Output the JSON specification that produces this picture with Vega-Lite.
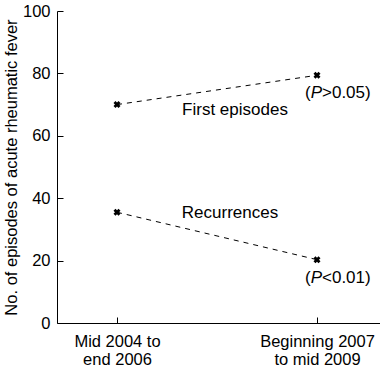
{
  "$schema": "https://vega.github.io/schema/vega-lite/v6.json",
  "width": 323,
  "height": 312,
  "autosize": {"type": "none"},
  "padding": {"left": 57, "top": 11, "right": 0, "bottom": 50},
  "background": "white",
  "config": {
    "view": {"stroke": null},
    "font": "Liberation Sans",
    "axis": {"grid": false, "domainColor": "black", "tickColor": "black", "labelColor": "black", "titleColor": "black", "labelFont": "Liberation Sans", "titleFont": "Liberation Sans", "titleFontWeight": "normal", "domainWidth": 1, "tickWidth": 1}
  },
  "resolve": {"axis": {"x": "independent", "y": "independent"}},
  "datasets": {
    "pts": [
      {"period": 0, "episodes": 70, "series": "First episodes"},
      {"period": 1, "episodes": 79.4, "series": "First episodes"},
      {"period": 0, "episodes": 35.5, "series": "Recurrences"},
      {"period": 1, "episodes": 20.3, "series": "Recurrences"}
    ],
    "labels": [
      {"period": 0.59, "episodes": 68.3, "label": "First episodes"},
      {"period": 0.565, "episodes": 35.3, "label": "Recurrences"}
    ],
    "pvals": [
      {"period": 0.94, "episodes": 73.8, "pre": "(", "p": "P", "post": ">0.05)"},
      {"period": 0.94, "episodes": 14.4, "pre": "(", "p": "P", "post": "<0.01)"}
    ]
  },
  "layer": [
    {
      "data": {"name": "pts"},
      "mark": {"type": "line", "color": "black", "strokeWidth": 1, "strokeDash": [5, 5]},
      "encoding": {
        "x": {"field": "period", "type": "quantitative", "scale": {"domain": [-0.3, 1.315], "nice": false, "zero": false},
          "axis": {"values": [0, 1], "title": null, "ticks": false, "labelPadding": 10, "labelFontSize": 16.5, "labelLineHeight": 18.5, "labelBaseline": "top",
            "labelExpr": "datum.value == 0 ? ['Mid 2004 to', 'end 2006'] : ['Beginning 2007', 'to mid 2009']"}},
        "y": {"field": "episodes", "type": "quantitative", "scale": {"domain": [0, 100], "nice": false},
          "axis": {"values": [0, 20, 40, 60, 80, 100], "title": "No. of episodes of acute rheumatic fever", "titleFontSize": 16.5, "titlePadding": 3, "ticks": false, "labelPadding": 7, "labelFontSize": 16.5}},
        "detail": {"field": "series"}
      }
    },
    {
      "data": {"name": "pts"},
      "mark": {"type": "point", "shape": "cross", "angle": 45, "filled": true, "color": "black", "size": 50, "opacity": 1},
      "encoding": {
        "x": {"field": "period", "type": "quantitative",
          "axis": {"orient": "top", "offset": -312, "values": [0, 1], "labels": false, "domain": false, "title": null, "tickSize": 6}},
        "y": {"field": "episodes", "type": "quantitative",
          "axis": {"orient": "right", "offset": -323, "values": [0, 20, 40, 60, 80, 100], "labels": false, "domain": false, "title": null, "tickSize": 6}}
      }
    },
    {
      "data": {"name": "labels"},
      "mark": {"type": "text", "fontSize": 17, "color": "black", "align": "center", "baseline": "middle"},
      "encoding": {
        "x": {"field": "period", "type": "quantitative", "axis": null},
        "y": {"field": "episodes", "type": "quantitative", "axis": null},
        "text": {"field": "label"}
      }
    },
    {
      "data": {"name": "pvals"},
      "mark": {"type": "text", "fontSize": 17, "color": "black", "align": "left", "baseline": "middle"},
      "encoding": {
        "x": {"field": "period", "type": "quantitative", "axis": null},
        "y": {"field": "episodes", "type": "quantitative", "axis": null},
        "text": {"field": "pre"}
      }
    },
    {
      "data": {"name": "pvals"},
      "mark": {"type": "text", "fontSize": 17, "fontStyle": "italic", "color": "black", "align": "left", "baseline": "middle", "dx": 5.7},
      "encoding": {
        "x": {"field": "period", "type": "quantitative", "axis": null},
        "y": {"field": "episodes", "type": "quantitative", "axis": null},
        "text": {"field": "p"}
      }
    },
    {
      "data": {"name": "pvals"},
      "mark": {"type": "text", "fontSize": 17, "color": "black", "align": "left", "baseline": "middle", "dx": 17},
      "encoding": {
        "x": {"field": "period", "type": "quantitative", "axis": null},
        "y": {"field": "episodes", "type": "quantitative", "axis": null},
        "text": {"field": "post"}
      }
    }
  ]
}
